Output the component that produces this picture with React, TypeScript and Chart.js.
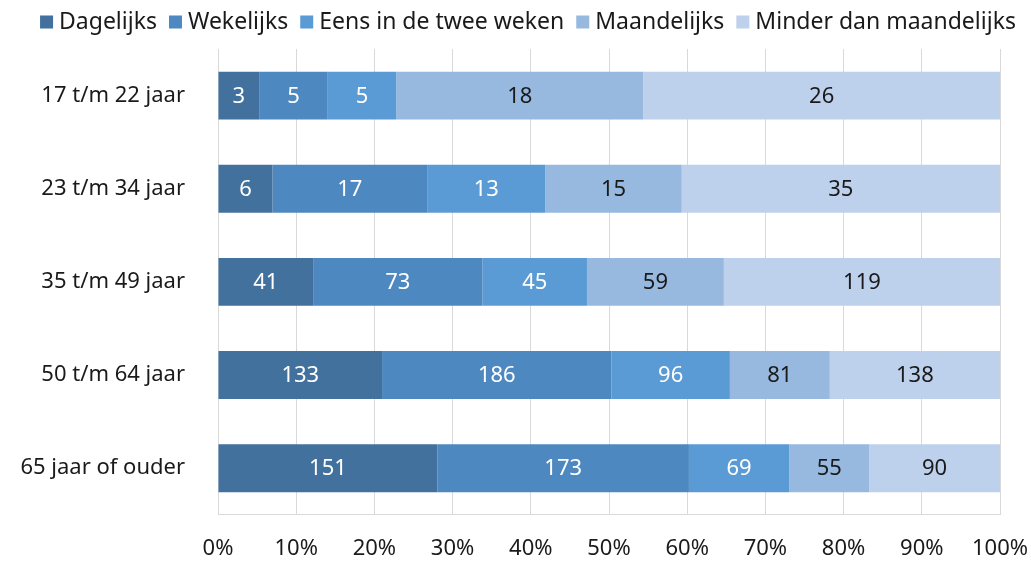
import React, { useEffect, useRef } from "react";
import { Chart, registerables } from "chart.js";

Chart.register(...registerables);

const categories = ["17 t/m 22 jaar", "23 t/m 34 jaar", "35 t/m 49 jaar", "50 t/m 64 jaar", "65 jaar of ouder"];
const seriesNames = ["Dagelijks", "Wekelijks", "Eens in de twee weken", "Maandelijks", "Minder dan maandelijks"];
const dagelijks = [3, 6, 41, 133, 151];
const wekelijks = [5, 17, 73, 186, 173];
const tweeWeken = [5, 13, 45, 96, 69];
const maandelijks = [18, 15, 59, 81, 55];
const minder = [26, 35, 119, 138, 90];
const xTicks = [0, 10, 20, 30, 40, 50, 60, 70, 80, 90, 100];

const colors = ["#41719C", "#4E88C0", "#5B9BD5", "#97B9DF", "#BDD0EC"];
const labelColors = ["#ffffff", "#ffffff", "#ffffff", "#1a1a1a", "#1a1a1a"];
const FONT = "'Noto Sans', 'Open Sans', sans-serif";

export default function App() {
  const ref = useRef<HTMLCanvasElement | null>(null);
  useEffect(() => {
    document.body.style.margin = "0";
    const series = [dagelijks, wekelijks, tweeWeken, maandelijks, minder];
    const totals = categories.map((_, i) => series.reduce((s, arr) => s + arr[i], 0));
    const datasets = series.map((arr, k) => ({
      label: seriesNames[k],
      data: arr.map((v, i) => (v / totals[i]) * 100),
      counts: arr,
      backgroundColor: colors[k],
      borderWidth: 0,
      categoryPercentage: 1,
      barPercentage: 0.514,
    }));

    const labelPlugin = {
      id: "barLabels",
      afterDatasetsDraw(chart: any) {
        const ctx = chart.ctx;
        ctx.save();
        ctx.font = `22px ${FONT}`;
        ctx.textAlign = "center";
        ctx.textBaseline = "middle";
        chart.data.datasets.forEach((ds: any, k: number) => {
          const meta = chart.getDatasetMeta(k);
          meta.data.forEach((el: any, i: number) => {
            const p = el.getProps(["x", "y", "base"], true);
            ctx.fillStyle = labelColors[k];
            ctx.fillText(String(ds.counts[i]), (p.x + p.base) / 2, p.y + 1);
          });
        });
        ctx.restore();
      },
    };

    const legendPlugin = {
      id: "customLegend",
      afterDraw(chart: any) {
        const ctx = chart.ctx;
        ctx.save();
        ctx.font = `23px ${FONT}`;
        ctx.textBaseline = "middle";
        const box = 13;
        const gap = 6;
        const spacing = 12;
        const widths = chart.data.datasets.map((ds: any) => ctx.measureText(ds.label).width);
        const total =
          widths.reduce((s: number, w: number) => s + w + box + gap, 0) + spacing * (widths.length - 1);
        let x = 528 - total / 2;
        const cy = 21;
        chart.data.datasets.forEach((ds: any, k: number) => {
          ctx.fillStyle = ds.backgroundColor;
          ctx.fillRect(x, cy - box / 2 + 1, box, box);
          x += box + gap;
          ctx.fillStyle = "#1a1a1a";
          ctx.textAlign = "left";
          ctx.fillText(ds.label, x, cy + 1);
          x += widths[k] + spacing;
        });
        ctx.restore();
      },
    };

    const chart = new Chart(ref.current!, {
      type: "bar",
      data: { labels: categories, datasets: datasets as any },
      options: {
        indexAxis: "y",
        animation: false,
        responsive: false,
        layout: { padding: { left: 0, right: 0, top: 49, bottom: 0 } },
        plugins: {
          legend: { display: false },
          tooltip: { enabled: false },
        },
        scales: {
          x: {
            stacked: true,
            min: 0,
            max: 100,
            afterBuildTicks(scale: any) {
              scale.ticks = xTicks.map((v) => ({ value: v }));
            },
            afterFit(scale: any) {
              scale.height = 45;
              scale.paddingRight = 31;
              scale.paddingLeft = 0;
            },
            ticks: {
              callback: (v: any) => `${v}%`,
              font: { family: FONT, size: 22 },
              color: "#1a1a1a",
              padding: 21,
              maxRotation: 0,
            },
            grid: { color: "#d9d9d9", lineWidth: 1, drawTicks: false },
            border: { display: true, color: "#d9d9d9" },
          },
          y: {
            stacked: true,
            afterFit(scale: any) {
              scale.width = 218;
            },
            ticks: {
              font: { family: FONT, size: 22 },
              color: "#1a1a1a",
              padding: 33,
            },
            grid: { display: false, drawTicks: false },
            border: { display: true, color: "#d9d9d9" },
          },
        },
      },
      plugins: [labelPlugin, legendPlugin],
    });
    return () => chart.destroy();
  }, []);
  return (
    <div style={{ width: 1031, height: 561 }}>
      <canvas ref={ref} width={1031} height={561} style={{ display: "block" }} />
    </div>
  );
}
